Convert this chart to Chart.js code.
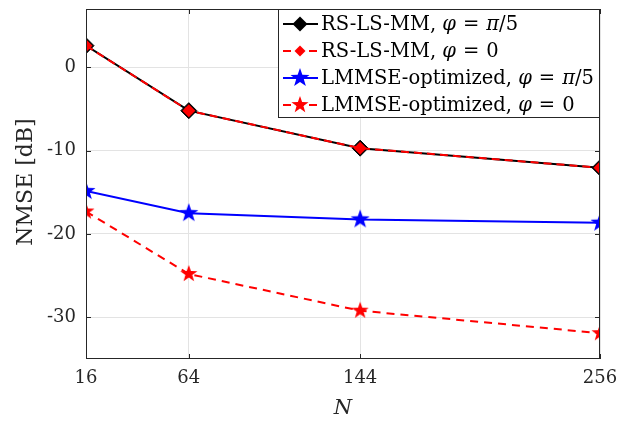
<!DOCTYPE html>
<html>
<head>
<meta charset="utf-8">
<script src="https://cdn.jsdelivr.net/npm/chart.js@4"></script>
<style>
  html, body { margin: 0; padding: 0; background: #fff; }
  #wrap { width: 626px; height: 422px; }
</style>
</head>
<body>
<div id="wrap"><canvas id="chart" width="626" height="422"></canvas></div>
<script>
const nValues = [16, 64, 144, 256];
const rsPi5 = [2.6, -5.2, -9.7, -12.05];
const rsZero = [2.6, -5.2, -9.7, -12.05];
const lmmsePi5 = [-14.85, -17.5, -18.25, -18.65];
const lmmseZero = [-17.3, -24.8, -29.2, -31.9];
const yTicks = [-30, -20, -10, 0];

const serif = '"DejaVu Serif", "Liberation Serif", serif';

function makeStar(color, r) {
    const c = document.createElement('canvas');
    const s = Math.ceil(r * 2 + 2);
    c.width = s; c.height = s;
    const g = c.getContext('2d');
    g.beginPath();
    for (let i = 0; i < 10; i++) {
        const rad = i % 2 === 0 ? r : r * 0.4;
        const a = -Math.PI / 2 + i * Math.PI / 5;
        const px = s / 2 + rad * Math.cos(a);
        const py = s / 2 + rad * Math.sin(a);
        if (i === 0) g.moveTo(px, py); else g.lineTo(px, py);
    }
    g.closePath();
    g.fillStyle = color;
    g.fill();
    return c;
}

const blueStar = makeStar('#0000ff', 10);
const redStar = makeStar('#ff0000', 9);

const pts = (ys) => nValues.map((x, i) => ({ x: x, y: ys[i] }));

// text pieces: [text, italic, extra gap after]
const legendItems = [
    { parts: [['RS-LS-MM, ', 0, 0], ['φ', 1, 7], ['=', 0, 7], ['π', 1, 0], ['/5', 0, 0]], color: '#000', dash: [], marker: 'diamondBlack' },
    { parts: [['RS-LS-MM, ', 0, 0], ['φ', 1, 7], ['=', 0, 7], ['0', 0, 0]], color: '#ff0000', dash: [8, 5], marker: 'diamondRed' },
    { parts: [['LMMSE-optimized, ', 0, 0], ['φ', 1, 7], ['=', 0, 7], ['π', 1, 0], ['/5', 0, 0]], color: '#0000ff', dash: [], marker: blueStar },
    { parts: [['LMMSE-optimized, ', 0, 0], ['φ', 1, 7], ['=', 0, 7], ['0', 0, 0]], color: '#ff0000', dash: [8, 5], marker: redStar },
];

function diamond(g, x, y, r, fill, stroke) {
    g.beginPath();
    g.moveTo(x, y - r); g.lineTo(x + r, y); g.lineTo(x, y + r); g.lineTo(x - r, y);
    g.closePath();
    g.fillStyle = fill; g.fill();
    if (stroke) { g.strokeStyle = stroke; g.lineWidth = 1; g.stroke(); }
}

const framePlugin = {
    id: 'frame',
    afterDraw(chart) {
        const g = chart.ctx;
        const a = chart.chartArea;
        g.save();
        // box and inward ticks
        g.strokeStyle = '#262626';
        g.lineWidth = 1;
        g.strokeRect(a.left + 0.5, a.top + 0.5, a.right - a.left - 1, a.bottom - a.top - 1);
        const xs = chart.scales.x, ys = chart.scales.y;
        g.beginPath();
        nValues.forEach((v) => {
            const px = Math.round(xs.getPixelForValue(v)) + 0.5;
            g.moveTo(px, a.bottom); g.lineTo(px, a.bottom - 5);
            g.moveTo(px, a.top); g.lineTo(px, a.top + 5);
        });
        yTicks.forEach((v) => {
            const py = Math.round(ys.getPixelForValue(v)) + 0.5;
            g.moveTo(a.left, py); g.lineTo(a.left + 5, py);
            g.moveTo(a.right, py); g.lineTo(a.right - 5, py);
        });
        g.stroke();

        // legend
        const lx = 278, ly = a.top, lw = a.right - 278, lh = 109;
        g.fillStyle = '#fff';
        g.fillRect(lx, ly, lw, lh);
        g.strokeStyle = '#262626';
        g.strokeRect(lx + 0.5, ly + 0.5, lw - 1, lh - 1);
        legendItems.forEach((it, i) => {
            const cy = ly + 15 + i * 27;
            g.beginPath();
            g.setLineDash(it.dash);
            g.strokeStyle = it.color;
            g.lineWidth = 2;
            g.moveTo(283, cy); g.lineTo(318, cy);
            g.stroke();
            g.setLineDash([]);
            if (it.marker === 'diamondBlack') diamond(g, 300, cy, 7.5, '#000');
            else if (it.marker === 'diamondRed') diamond(g, 300, cy, 5.5, '#ff0000');
            else g.drawImage(it.marker, 300 - it.marker.width / 2, cy - it.marker.height / 2);
            let tx = 321;
            g.fillStyle = '#000';
            g.textBaseline = 'middle';
            it.parts.forEach(([t, ital, gap]) => {
                g.font = (ital ? 'italic ' : '') + '19.5px ' + serif;
                g.fillText(t, tx, cy + 1);
                tx += g.measureText(t).width + gap;
            });
        });

        // axis titles
        g.fillStyle = '#262626';
        g.textAlign = 'center';
        g.textBaseline = 'middle';
        g.font = 'italic 21px ' + serif;
        g.fillText('N', (a.left + a.right) / 2, 409);
        g.translate(26, (a.top + a.bottom) / 2 - 2);
        g.rotate(-Math.PI / 2);
        g.font = '22px ' + serif;
        g.fillText('NMSE [dB]', 0, 0);
        g.restore();
    },
};

new Chart(document.getElementById('chart'), {
    type: 'line',
    data: {
        datasets: [
            {
                data: pts(rsPi5),
                order: 4,
                borderColor: '#000',
                borderWidth: 2,
                pointStyle: 'rectRot',
                pointRadius: 8,
                pointBackgroundColor: '#000',
                pointBorderColor: '#000',
                pointBorderWidth: 1,
            },
            {
                data: pts(rsZero),
                order: 3,
                borderColor: '#ff0000',
                borderWidth: 2,
                borderDash: [8, 5],
                pointStyle: 'rectRot',
                pointRadius: 6.5,
                pointBackgroundColor: '#ff0000',
                pointBorderColor: '#ff0000',
                pointBorderWidth: 0,
            },
            {
                data: pts(lmmsePi5),
                order: 2,
                borderColor: '#0000ff',
                borderWidth: 2,
                pointStyle: blueStar,
            },
            {
                data: pts(lmmseZero),
                order: 1,
                borderColor: '#ff0000',
                borderWidth: 2,
                borderDash: [8, 6],
                pointStyle: redStar,
            },
        ],
    },
    options: {
        animation: false,
        responsive: false,
        layout: { padding: { left: 0, top: 9, right: 26, bottom: 0 } },
        plugins: { legend: { display: false }, tooltip: { enabled: false } },
        scales: {
            x: {
                type: 'linear',
                min: 16,
                max: 256,
                afterBuildTicks: (s) => { s.ticks = nValues.map((v) => ({ value: v })); },
                afterFit: (s) => { s.height = 63; s.paddingLeft = 0; s.paddingRight = 0; },
                grid: { color: '#e3e3e3', drawTicks: false },
                border: { display: false },
                ticks: {
                    color: '#262626',
                    padding: 9,
                    font: { family: serif, size: 18 },
                    maxRotation: 0,
                },
            },
            y: {
                min: -35,
                max: 7,
                afterBuildTicks: (s) => { s.ticks = yTicks.map((v) => ({ value: v })); },
                afterFit: (s) => { s.width = 86; s.paddingTop = 0; s.paddingBottom = 0; },
                grid: { color: '#e3e3e3', drawTicks: false },
                border: { display: false },
                ticks: {
                    color: '#262626',
                    padding: 10,
                    font: { family: serif, size: 18 },
                },
            },
        },
    },
    plugins: [framePlugin],
});
</script>
</body>
</html>
